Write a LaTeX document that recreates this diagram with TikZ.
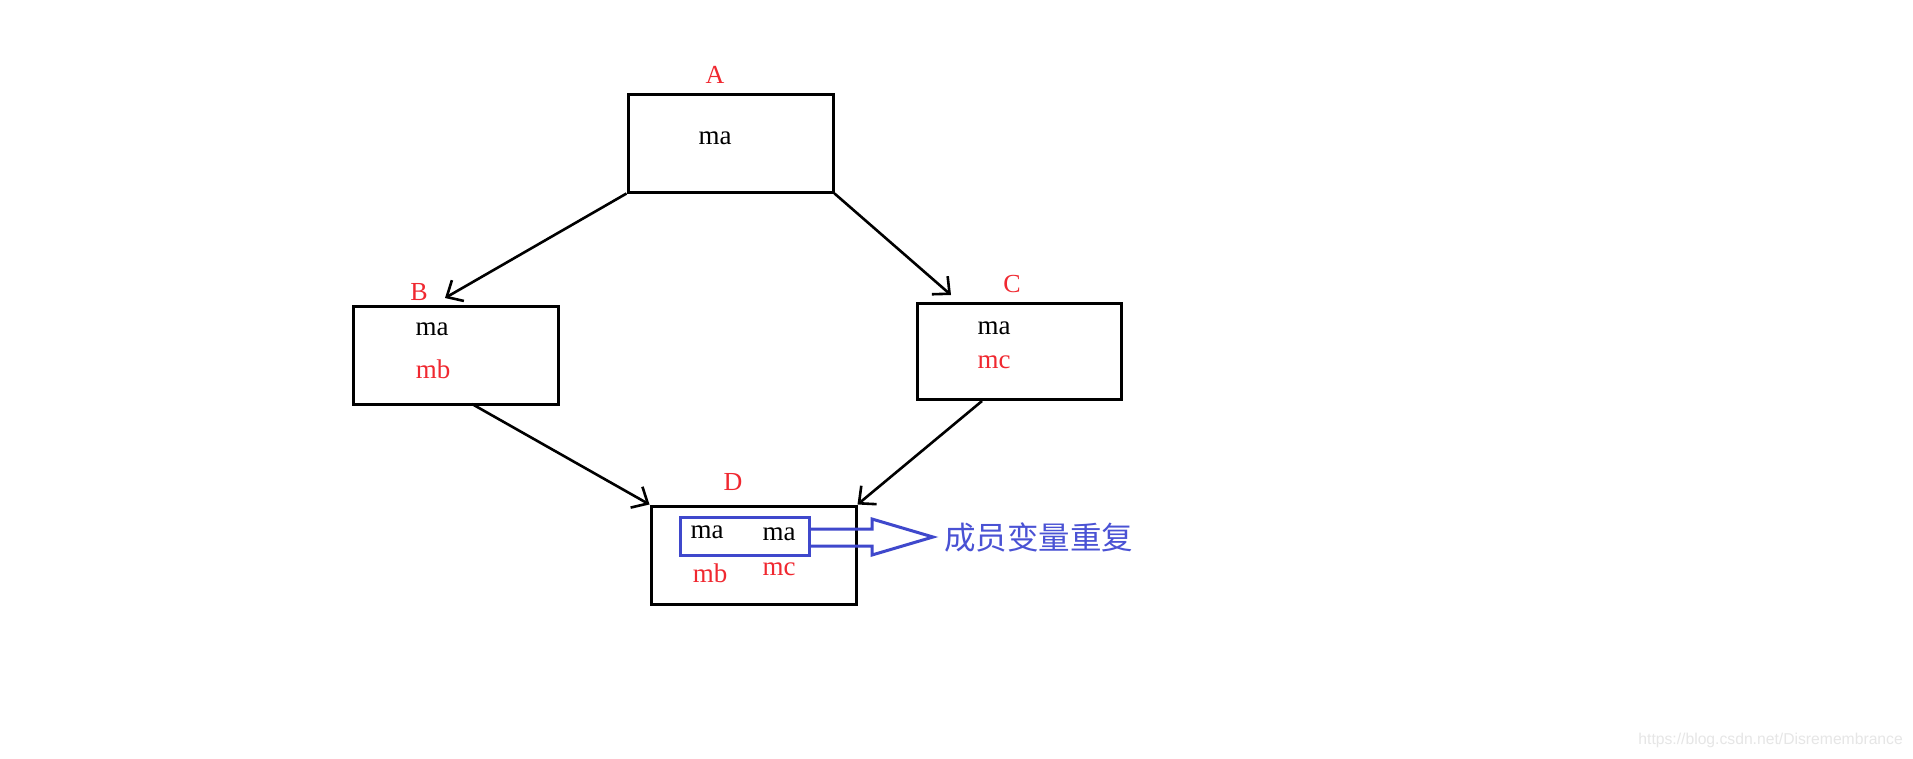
\documentclass[tikz,border=0pt]{standalone}
\usepackage{fontspec}
\setmainfont{Liberation Serif}
\newfontfamily\cjk{Noto Sans CJK SC}
\newfontfamily\wmfont{Liberation Sans}
\usetikzlibrary{arrows.meta}
\definecolor{lblred}{HTML}{F02830}
\definecolor{pblue}{HTML}{3F48CC}
\definecolor{tblue}{HTML}{4A52D4}
\definecolor{wmgray}{HTML}{E6E6E6}
\tikzset{
  box/.style={draw=black, line width=3pt, rectangle, inner sep=0pt},
  conn/.style={draw=black, line width=2.6pt, -{Straight Barb[length=13pt,width=24pt,line width=2.6pt]}},
  lbl/.style={text=lblred, font=\fontsize{26}{30}\selectfont, inner sep=0pt},
  mem/.style={text=black, font=\fontsize{27}{31}\selectfont, inner sep=0pt},
  memr/.style={text=lblred, font=\fontsize{27}{31}\selectfont, inner sep=0pt},
}
\begin{document}
\begin{tikzpicture}[x=1pt,y=-1pt]
\useasboundingbox[fill=white] (0,0) rectangle (1913,758);
% boxes
\node[box, minimum width=205pt, minimum height=98pt] (A) at (730.5,143) {};
\node[box, minimum width=205pt, minimum height=98pt] (B) at (455.5,355) {};
\node[box, minimum width=204pt, minimum height=96pt] (C) at (1019,351) {};
\node[box, minimum width=205pt, minimum height=98pt] (D) at (753.5,555) {};
\node[draw=pblue, line width=3pt, rectangle, inner sep=0pt, minimum width=129pt, minimum height=38pt] (I) at (744.5,536) {};
% labels
\node[lbl] (la) at (715,75) {A};
\node[lbl] (lb) at (419,292) {B};
\node[lbl] (lc) at (1012,284) {C};
\node[lbl] (ld) at (733,482) {D};
% members
\node[mem] (ama) at (715,138) {ma};
\node[mem] (bma) at (432,329) {ma};
\node[memr] (bmb) at (433,369) {mb};
\node[mem] (cma) at (994,328) {ma};
\node[memr] (cmc) at (994,362) {mc};
\node[mem] (dma1) at (707,532) {ma};
\node[mem] (dma2) at (779,534) {ma};
\node[memr] (dmb) at (710,573) {mb};
\node[memr] (dmc) at (779,569) {mc};
% connector end points
\coordinate (bt) at (445,298);
\coordinate (ct) at (951,295);
\coordinate (bs) at (472,404);
\coordinate (cs) at (982,401);
\draw[conn] (A.south west) -- (bt);
\draw[conn] (A.south east) -- (ct);
\draw[conn] (bs) -- (D.north west);
\draw[conn] (cs) -- (D.north east);
% blue hollow arrow
\coordinate (tip) at (933,537);
\draw[pblue, line width=3pt, line join=miter] (I.east |- 0,529) -- (872,529) -- (872,519) -- (tip) -- (872,555) -- (872,546) -- (I.east |- 0,546);
\node[text=tblue, font=\cjk\fontsize{31.5}{36}\selectfont, anchor=west, inner sep=0pt] (dup) at (944,537) {成员变量重复};
% watermark
\node[text=wmgray, font=\wmfont\fontsize{15.7}{18}\selectfont, anchor=east, inner sep=0pt] (wm) at (1903,740) {https://blog.csdn.net/Disremembrance};
\end{tikzpicture}
\end{document}
